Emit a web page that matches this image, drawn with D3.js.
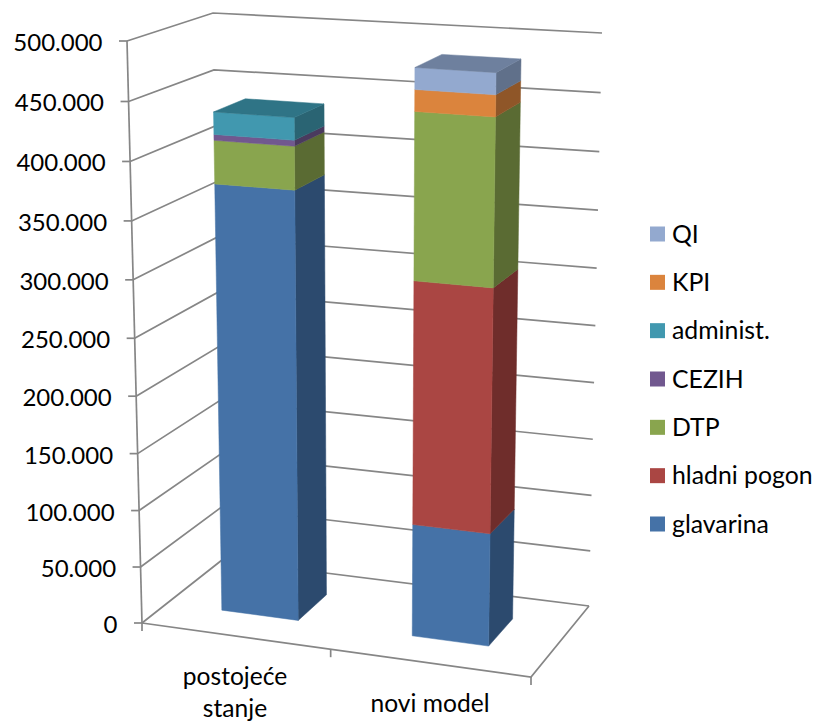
<!DOCTYPE html>
<html><head><meta charset="utf-8">
<script src="https://cdn.jsdelivr.net/npm/d3@7/dist/d3.min.js"></script>
<style>html,body{margin:0;padding:0;background:#fff}svg{display:block}text{font-family:Lato,sans-serif;fill:#000}</style>
</head><body><svg id="c" width="817" height="721"></svg>
<script>
const categories = ["postojeće stanje", "novi model"];
const seriesNames = ["glavarina", "hladni pogon", "DTP", "CEZIH", "administ.", "KPI", "QI"];
const glavarina = [375000, 98000];
const hladniPogon = [0, 209000];
const dtp = [37000, 141000];
const cezih = [5000, 0];
const administ = [19000, 0];
const kpi = [0, 18000];
const qi = [0, 18000];
const yTicks = [0, 50000, 100000, 150000, 200000, 250000, 300000, 350000, 400000, 450000, 500000];
const frontColors = ["#4572A7", "#AA4643", "#89A54E", "#71588F", "#4198AF", "#DB843D", "#93A9CF"];
const sideColors = ["#2C4A6E", "#6F2D2B", "#5A6B33", "#4A3A5E", "#2A6473", "#8F5628", "#60708A"];
const topColors = ["#3A5F8A", "#8C3A37", "#71883F", "#5D4976", "#2F7486", "#B56D32", "#6E809E"];

const svg = d3.select("#c");
// projected corners of the 3D plot box
const box = {
  fb0: [142, 623], fb1: [531, 677], bb0: [222, 560], bb1: [589, 606],
  ft0: [127, 41], ft1: [542, 68], bt0: [213, 13], bt1: [602, 33]
};
const valueT = d3.scaleLinear().domain([0, 500000]).range([0, 1]);
const persp = 0.044;
const warp = t => t / (1 + persp * (1 - t));
const mix = (a, b, k) => [a[0] + (b[0] - a[0]) * k, a[1] + (b[1] - a[1]) * k];
function project(u, v, value) {
  const t = warp(valueT(value));
  const bottom = mix(mix(box.fb0, box.fb1, u), mix(box.bb0, box.bb1, u), v);
  const top = mix(mix(box.ft0, box.ft1, u), mix(box.bt0, box.bt1, u), v);
  return mix(bottom, top, t);
}
const line = d3.line();
const gridColor = "#868686";

// walls
const grid = svg.append("g").attr("fill", "none").attr("stroke", gridColor).attr("stroke-width", 1.7);
yTicks.forEach(y => {
  grid.append("path").attr("d", line([project(0, 0, y), project(0, 1, y), project(1, 1, y)]));
});
// floor and axes
grid.append("path").attr("d", line([project(0, 0, 0), project(1, 0, 0), project(1, 1, 0)]));
grid.append("path").attr("d", line([project(0, 0, 0), project(0, 0, yTicks[yTicks.length - 1])]));
const fmt = d3.formatLocale({ decimal: ",", thousands: ".", grouping: [3], currency: ["", ""] }).format(",.0f");
yTicks.forEach(y => {
  const p = project(0, 0, y);
  grid.append("path").attr("d", line([p, [p[0] - 8, p[1]]]));
  svg.append("text").attr("x", p[0] - 24.5).attr("y", p[1] + 10)
    .attr("text-anchor", "end").attr("font-size", 24).text(fmt(y));
});
[0, 0.485, 1].forEach(u => {
  const p = project(u, 0, 0);
  grid.append("path").attr("d", line([p, [p[0], p[1] + 8]]));
});

// bars
const rows = categories.map((c, i) => ({ c, glavarina: glavarina[i], "hladni pogon": hladniPogon[i], DTP: dtp[i], CEZIH: cezih[i], "administ.": administ[i], KPI: kpi[i], QI: qi[i] }));
const stacked = d3.stack().keys(seriesNames)(rows);
const xBand = d3.scaleBand().domain(categories).range([-0.0088, 0.9912]).paddingInner(0.599).paddingOuter(0.3025);
const v0 = 0.32, v1 = 0.71;
categories.forEach((c, ci) => {
  const u0 = xBand(c), u1 = u0 + xBand.bandwidth();
  const g = svg.append("g");
  const segs = stacked.map((s, si) => ({ si, a: s[ci][0], b: s[ci][1] })).filter(d => d.b > d.a);
  segs.forEach(d => {
    g.append("path").attr("fill", sideColors[d.si]).attr("stroke", sideColors[d.si]).attr("stroke-width", 0.5)
      .attr("d", line([project(u1, v0, d.a), project(u1, v1, d.a), project(u1, v1, d.b), project(u1, v0, d.b)]) + "Z");
  });
  segs.forEach(d => {
    g.append("path").attr("fill", frontColors[d.si]).attr("stroke", frontColors[d.si]).attr("stroke-width", 0.5)
      .attr("d", line([project(u0, v0, d.a), project(u1, v0, d.a), project(u1, v0, d.b), project(u0, v0, d.b)]) + "Z");
  });
  const last = segs[segs.length - 1];
  g.append("path").attr("fill", topColors[last.si]).attr("stroke", topColors[last.si]).attr("stroke-width", 0.5)
    .attr("d", line([project(u0, v0, last.b), project(u1, v0, last.b), project(u1, v1, last.b), project(u0, v1, last.b)]) + "Z");
});

// category labels
const catLines = [["postojeće", "stanje"], ["novi model"]];
const catX = [235, 430];
const catY = [[685, 717], [712]];
catLines.forEach((ls, i) => ls.forEach((l, j) => {
  svg.append("text").attr("x", catX[i]).attr("y", catY[i][j]).attr("text-anchor", "middle").attr("font-size", 24.6).text(l);
}));

// legend
const legendY = d3.scalePoint().domain(seriesNames.slice().reverse()).range([234, 524]);
seriesNames.forEach((n, i) => {
  const y = legendY(n);
  svg.append("rect").attr("x", 650).attr("y", y - 7.5).attr("width", 15).attr("height", 15).attr("fill", frontColors[i]);
  svg.append("text").attr("x", 672).attr("y", y + 8.7).attr("font-size", 24.8).text(n);
});
</script></body></html>
